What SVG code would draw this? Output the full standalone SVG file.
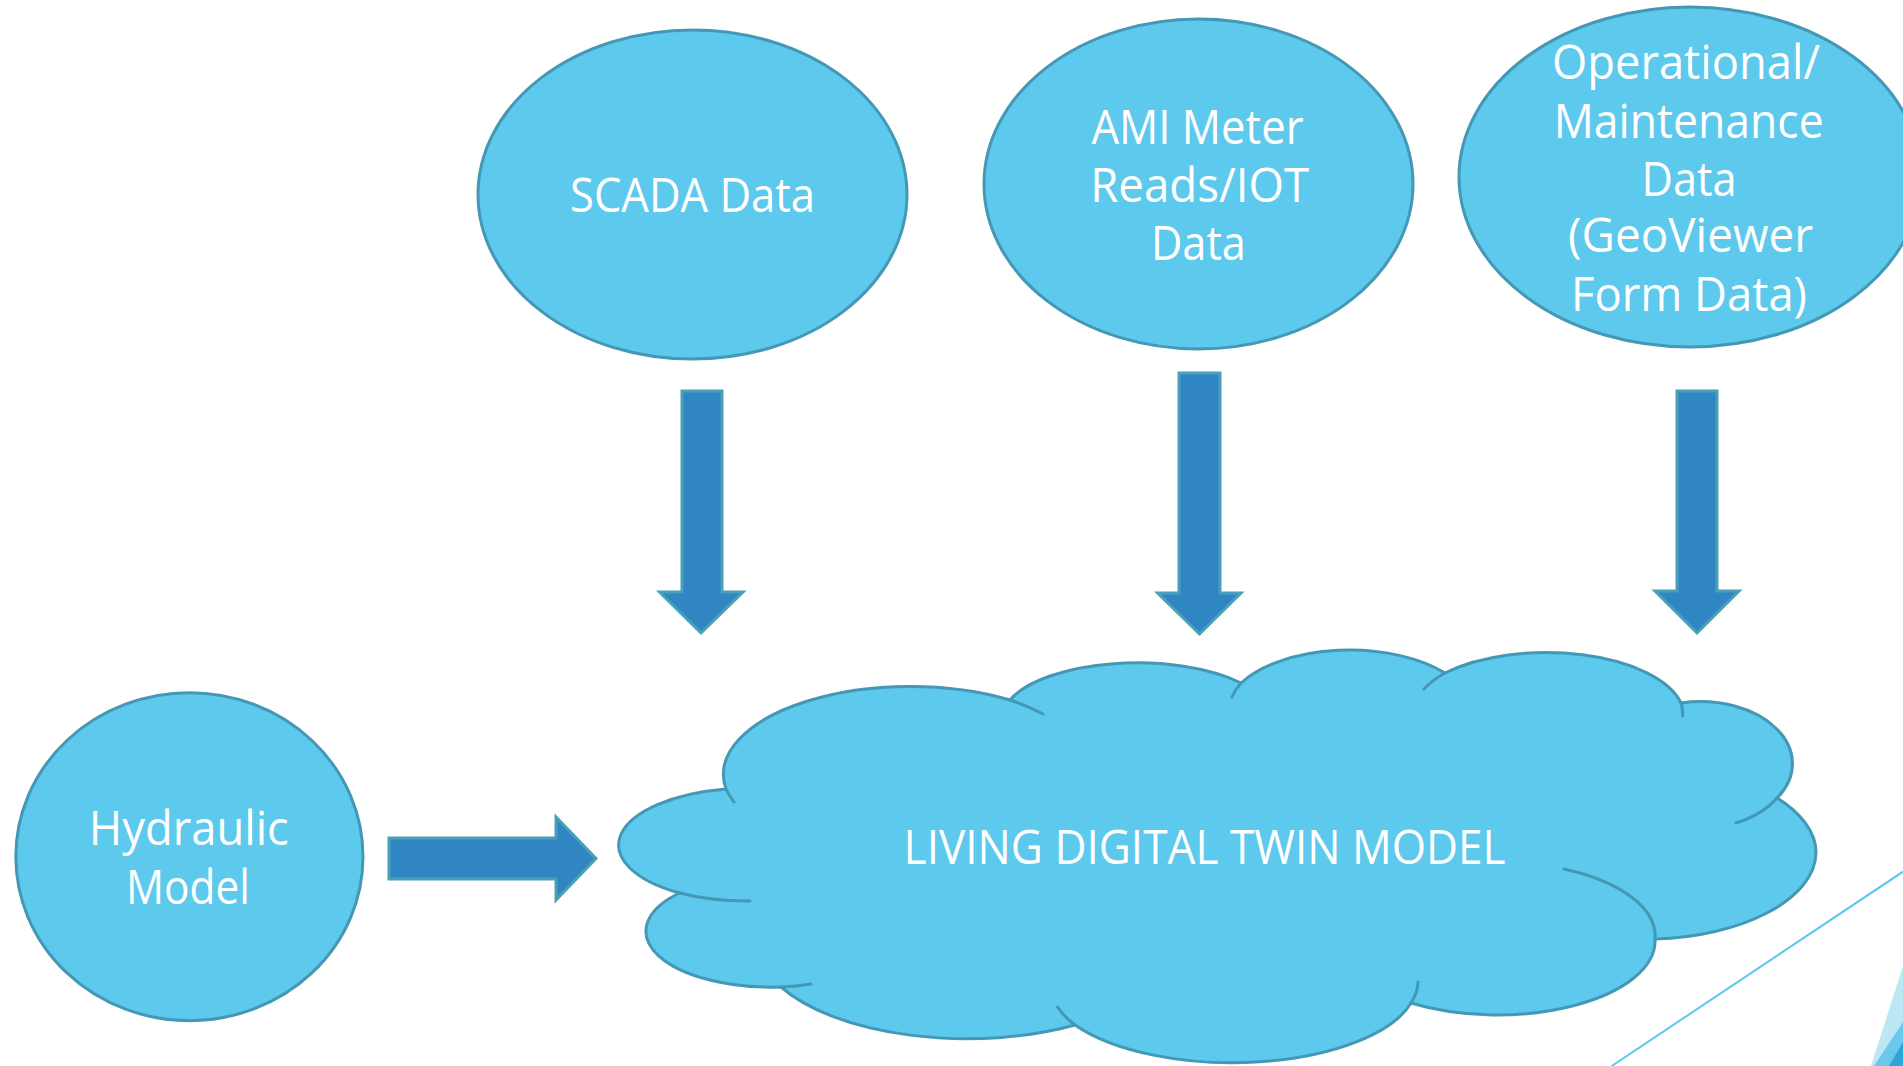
<svg xmlns="http://www.w3.org/2000/svg" width="1903" height="1066" viewBox="0 0 1903 1066">
  <style>
    .node { fill: #5DC9ED; stroke: #4498B6; stroke-width: 3; }
    .stub { fill: none; stroke: #4498B6; stroke-width: 3; stroke-linecap: round; }
    .arrow { fill: #2F86C3; stroke: #4AA0B8; stroke-width: 3; }
    .lbl { fill: #FFFFFF; font-family: "Open Sans", "Liberation Sans", sans-serif; font-size: 47px; text-anchor: middle; }
  </style>
  <rect x="0" y="0" width="1903" height="1066" fill="#FFFFFF"/>

  <g id="decoration">
    <line x1="1903" y1="871.7" x2="1611.7" y2="1066" stroke="#5EC8EC" stroke-width="2"/>
    <polygon points="1903,966 1903,1066 1871,1066" fill="#BEE7F6"/>
    <polygon points="1903,1022 1903,1066 1874,1066" fill="#6AC9EA"/>
    <polygon points="1903,1042 1903,1066 1889,1066" fill="#2EA5D9"/>
  </g>

  <g id="scada">
    <ellipse class="node" cx="692.5" cy="194.5" rx="214.5" ry="164.5"/>
    <text class="lbl" x="692.5" y="212" textLength="245" lengthAdjust="spacingAndGlyphs">SCADA Data</text>
  </g>

  <g id="ami">
    <ellipse class="node" cx="1198.5" cy="184" rx="214.5" ry="165"/>
    <text class="lbl" x="1197.5" y="144" textLength="212" lengthAdjust="spacingAndGlyphs">AMI Meter</text>
    <text class="lbl" x="1199.7" y="202" textLength="219" lengthAdjust="spacingAndGlyphs">Reads/IOT</text>
    <text class="lbl" x="1198.4" y="260" textLength="95" lengthAdjust="spacingAndGlyphs">Data</text>
  </g>

  <g id="operational">
    <ellipse class="node" cx="1690" cy="177" rx="231" ry="170"/>
    <text class="lbl" x="1686" y="79" textLength="268" lengthAdjust="spacingAndGlyphs">Operational/</text>
    <text class="lbl" x="1688.7" y="138" textLength="270" lengthAdjust="spacingAndGlyphs">Maintenance</text>
    <text class="lbl" x="1689" y="196" textLength="95" lengthAdjust="spacingAndGlyphs">Data</text>
    <text class="lbl" x="1690.5" y="252" textLength="245" lengthAdjust="spacingAndGlyphs">(GeoViewer</text>
    <text class="lbl" x="1689" y="311" textLength="236" lengthAdjust="spacingAndGlyphs">Form Data)</text>
  </g>

  <g id="hydraulic">
    <ellipse class="node" cx="189.4" cy="856.7" rx="173.6" ry="164"/>
    <text class="lbl" x="188.8" y="845" textLength="200" lengthAdjust="spacingAndGlyphs">Hydraulic</text>
    <text class="lbl" x="187.9" y="904" textLength="124" lengthAdjust="spacingAndGlyphs">Model</text>
  </g>

  <g id="twin">
    <path class="node" d="M 726 789 A 187 88 0 0 1 1010 700 A 135 56 0 0 1 1241 683 A 125 65 0 0 1 1445 673 A 138 64 0 0 1 1681 703 A 92 62 0 0 1 1777 798 C 1800 812 1816 832 1816 852 C 1816 900 1740 937 1655 939 A 158 74 0 0 1 1411 1003 A 185 80 0 0 1 1075 1025 A 210 96.5 0 0 1 781 987 A 125 56 0 0 1 679.5 893 A 132 57 0 0 1 726 789 Z"/>
    <path class="stub" d="M 726 789 A 187 88 0 0 0 734 802 M 1010 700 A 187 88 0 0 1 1043 714 M 1241 683 A 125 65 0 0 0 1232 697 M 1445 673 A 138 64 0 0 0 1424 689 M 1681 703 A 138 64 0 0 1 1682.5 716 M 1777 798 A 92 62 0 0 1 1736 823 M 1655 939 A 158 74 0 0 0 1564 869 M 1411 1003 A 185 80 0 0 0 1418 982 M 1075 1025 A 185 80 0 0 1 1057.6 1007 M 781 987 A 125 56 0 0 0 811 984 M 679.5 893 A 132 57 0 0 0 750 901"/>
    <text class="lbl" x="1204.6" y="864" textLength="602" lengthAdjust="spacingAndGlyphs">LIVING DIGITAL TWIN MODEL</text>
  </g>

  <g id="connectors">
    <polygon class="arrow" points="682,391 722,391 722,592 743,592 701,633 659.5,592 682,592"/>
    <polygon class="arrow" points="1179,373 1220,373 1220,593 1241,593 1199.5,634 1157.6,593 1179,593"/>
    <polygon class="arrow" points="1677,391 1717,391 1717,591 1739,591 1697,633 1655,591 1677,591"/>
    <polygon class="arrow" points="389,838 556,838 556,817 596,858.5 556,900 556,879 389,879"/>
  </g>
</svg>
